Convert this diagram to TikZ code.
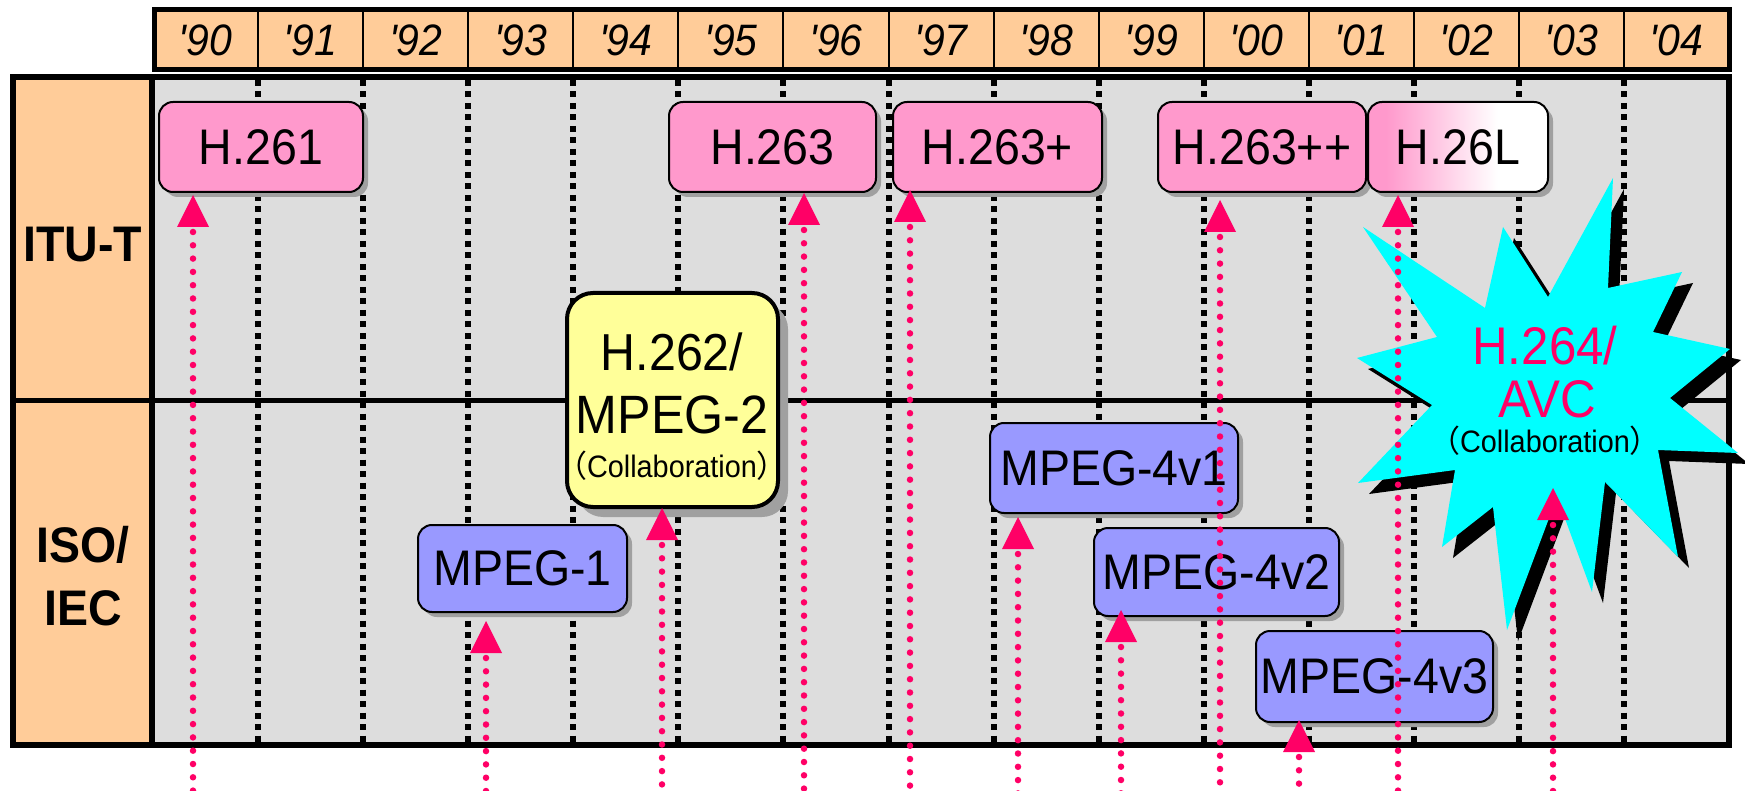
\documentclass[tikz,border=0pt]{standalone}
\usepackage{fontspec}
\setmainfont{Liberation Sans}[Ligatures=TeXOff, FakeStretch=0.93]
\newfontfamily\cjk{Noto Sans CJK JP}
\usetikzlibrary{shadows}

\definecolor{hdrorange}{HTML}{FFCC99}
\definecolor{panelgray}{HTML}{DDDDDD}
\definecolor{itupink}{HTML}{FF99CC}
\definecolor{isoblue}{HTML}{9999FF}
\definecolor{collabyellow}{HTML}{FFFF99}
\definecolor{burstcyan}{HTML}{00FFFF}
\definecolor{accent}{HTML}{FF0066}
\definecolor{boxshadow}{HTML}{A0A0A0}

\newcommand\setfs[1]{\fontsize{#1}{#1}\selectfont}
\pgfdeclarehorizontalshading{pinkfade}{100bp}{color(0bp)=(itupink); color(30bp)=(itupink); color(61bp)=(white); color(100bp)=(white)}

\tikzset{
  frame/.style={draw=black, line width=6pt},
  gridrule/.style={draw=black, line width=6pt, dash pattern=on 6pt off 5.5pt},
  releaseline/.style={draw=accent, line width=6.5pt, line cap=round, dash pattern=on 0pt off 13.3pt},
  stdbox/.style={draw=black, line width=2pt, rounded corners=14pt, inner sep=0pt,
    drop shadow={shadow xshift=5pt, shadow yshift=-5pt, fill=boxshadow, opacity=1},
    font=\setfs{50}},
  itubox/.style={stdbox, fill=itupink},
  isobox/.style={stdbox, fill=isoblue},
  orglabel/.style={font=\bfseries\setfs{50}},
  yearlabel/.style={font=\itshape\setfs{44}},
  collabnote/.style={font=\setfs{31}},
}

\begin{document}
\begin{tikzpicture}[x=1pt, y=-1pt]
\useasboundingbox (0,0) rectangle (1745,791);
\fill[white] (0,0) rectangle (1745,791);

% year header
\draw[line width=5pt, fill=hdrorange] (154.5,9.5) rectangle (1729,70);
\foreach \i in {1,...,14}
  \draw[line width=2pt] ({153+105.07*\i},12) -- ({153+105.07*\i},68);
\foreach \yr [count=\i from 0] in {90,91,92,93,94,95,96,97,98,99,00,01,02,03,04}
  \node[yearlabel] (yr\i) at ({153+105.07*(\i+0.5)},40) {'\yr};

% organisation column and timeline panel
\draw[frame, fill=hdrorange] (13,77) rectangle (152,745);
\draw[frame, fill=panelgray] (152,77) rectangle (1729,745);
\node[orglabel] (itu) at (83,245) {ITU-T};
\node[orglabel] (iso) at (83,545) {ISO/};
\node[orglabel] (iec) at (83,608) {IEC};

% year boundaries
\foreach \i in {1,...,14}
  \draw[gridrule] ({153+105.07*\i},80) -- ({153+105.07*\i},742);

% split between the two bodies
\draw[line width=5pt] (13,400) -- (1729,400);

% H.264/AVC starburst with its hard shadow
\def\burst{(1363,227) -- (1485,308) -- (1503,227) -- (1548,297) -- (1613,178) -- (1608,288)
  -- (1682,272) -- (1653,332) -- (1730,349) -- (1670,398) -- (1738,453) -- (1658,450)
  -- (1678,557) -- (1605,482) -- (1592,592) -- (1557,497) -- (1507,630) -- (1493,507)
  -- (1442,547) -- (1455,470) -- (1358,483) -- (1432,405) -- (1357,358) -- (1437,337) -- cycle}
\fill[black, shift={(11,11)}] \burst;
\fill[burstcyan] \burst;
\node[text=accent, font=\setfs{53}] (avc1) at (1545,346) {H.264/};
\node[text=accent, font=\setfs{53}] (avc2) at (1547,399) {AVC};
\node[collabnote] (avc3) at (1545,441) {{\cjk （}Collaboration{\cjk ）}};

% ITU-T recommendations
\node[itubox, minimum width=204pt, minimum height=90pt] (h261) at (261,147) {H.261};
\node[itubox, minimum width=207pt, minimum height=90pt] (h263) at (772.5,147) {H.263};
\node[itubox, minimum width=209pt, minimum height=90pt] (h263p) at (997.5,147) {H.263+};
\node[itubox, minimum width=208pt, minimum height=90pt] (h263pp) at (1262,147) {H.263++};
\node[stdbox, shading=pinkfade, minimum width=180pt, minimum height=90pt] (h26l) at (1458,147) {H.26L};

% joint H.262/MPEG-2
\node[draw=black, line width=4pt, rounded corners=26pt, fill=collabyellow, inner sep=0pt,
  minimum width=211pt, minimum height=214pt,
  drop shadow={shadow xshift=10pt, shadow yshift=-10pt, fill=boxshadow, opacity=1}] (h262) at (672.5,400) {};
\node[font=\setfs{52}] (h262a) at (672,352) {H.262/};
\node[font=\setfs{54}] (h262b) at (672,415) {MPEG-2};
\node[collabnote] (h262c) at (672,466) {{\cjk （}Collaboration{\cjk ）}};

% ISO/IEC standards
\node[isobox, minimum width=209pt, minimum height=87pt] (mpeg1) at (522.5,568.5) {MPEG-1};
\node[isobox, minimum width=248pt, minimum height=90pt] (m4v1) at (1114,468) {MPEG-4v1};
\node[isobox, minimum width=245pt, minimum height=88pt] (m4v2) at (1216.5,572) {MPEG-4v2};
\node[isobox, minimum width=237pt, minimum height=91pt] (m4v3) at (1374.5,676.5) {MPEG-4v3};

% release markers
\foreach \nm/\x/\ty in {a/193/195, b/804/193, c/910/190, d/1220/200, e/1398/195, f/662/508,
    g/486/621, h/1018/517, i/1121/610, j/1299/720, k/1553/488} {
  \coordinate (tip\nm) at (\x,\ty);
  \coordinate (foot\nm) at (\x,800);
  \draw[releaseline] ([yshift=-37pt]tip\nm) -- (foot\nm);
  \fill[accent] (tip\nm) -- ++(-16,32) -- ++(32,0) -- cycle;
}
\end{tikzpicture}
\end{document}
